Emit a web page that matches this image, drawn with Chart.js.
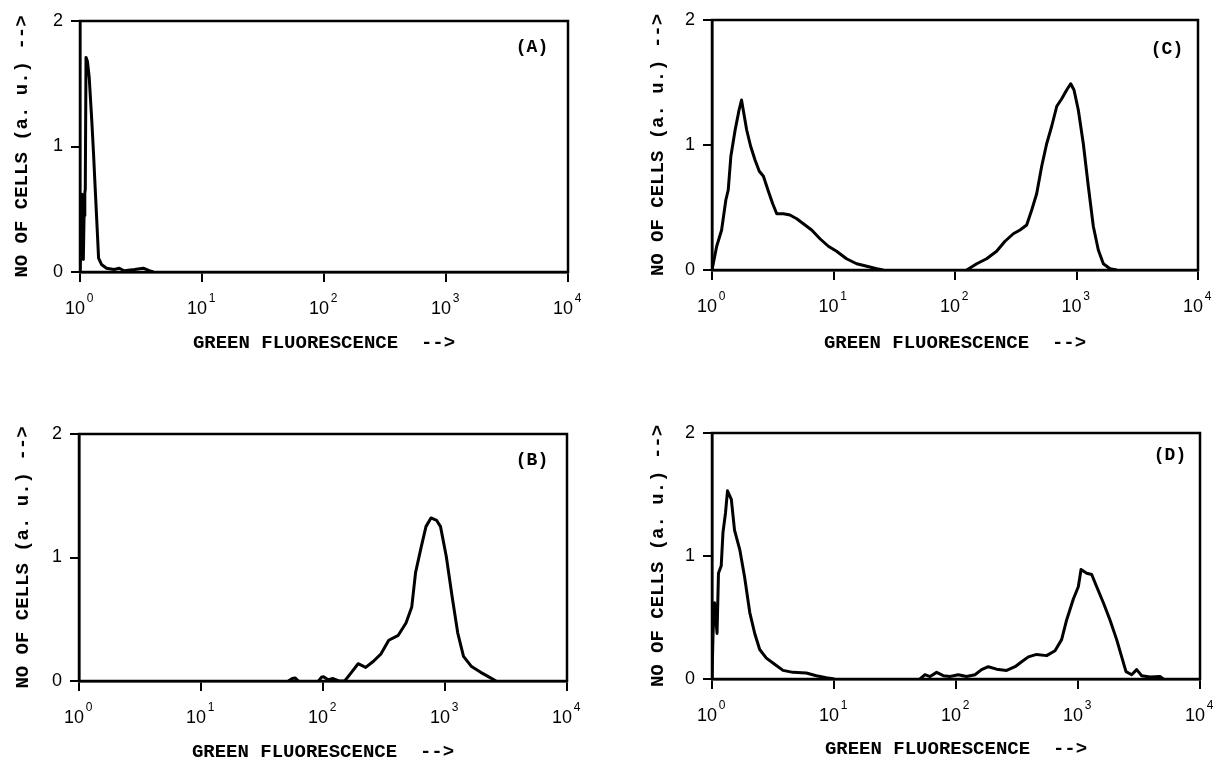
<!DOCTYPE html>
<html><head><meta charset="utf-8">
<script src="https://cdn.jsdelivr.net/npm/chart.js@4.4.1/dist/chart.umd.min.js"></script>
<style>
html,body{margin:0;padding:0;background:#fff;width:1226px;height:760px;overflow:hidden}
canvas{position:absolute}
</style></head><body>
<canvas id="cA" width="613" height="370" style="left:0;top:0"></canvas>
<canvas id="cC" width="613" height="370" style="left:613px;top:0"></canvas>
<canvas id="cB" width="613" height="390" style="left:0;top:370px"></canvas>
<canvas id="cD" width="613" height="390" style="left:613px;top:370px"></canvas>
<script>
// ---- data ----
const tickValues = [1, 10, 100, 1000, 10000];
const tickBases = ['10', '10', '10', '10', '10'];
const tickExponents = ['0', '1', '2', '3', '4'];
const yTickValues = [0, 1, 2];
const xTitle = 'GREEN FLUORESCENCE  -->';
const yTitle = 'NO OF CELLS (a. u.) -->';
const panelLabels = ['(A)', '(B)', '(C)', '(D)'];

const aX = [1.0, 1.02, 1.035, 1.05, 1.065, 1.08, 1.095, 1.105, 1.12, 1.15, 1.19, 1.25, 1.29, 1.33, 1.39, 1.42, 1.5, 1.65, 1.9, 2.1, 2.3, 2.8, 3.3, 3.7, 4.0];
const aY = [0, 0.3, 0.62, 0.35, 0.1, 0.45, 0.63, 0.66, 1.71, 1.68, 1.55, 1.2, 0.95, 0.68, 0.3, 0.11, 0.06, 0.03, 0.02, 0.03, 0.01, 0.02, 0.03, 0.01, 0];

const bX = [52, 56, 59, 63, 75, 92, 97, 101, 110, 121, 135, 150.6, 168, 194, 224, 259, 299, 346, 414, 479, 534, 574, 640, 698, 767, 855, 919, 1024, 1141, 1271, 1418, 1638, 1963, 2268, 2623];
const bY = [0, 0.02, 0.025, 0, null, 0, 0.03, 0.035, 0.01, 0.02, 0, 0, 0.06, 0.14, 0.11, 0.16, 0.22, 0.33, 0.37, 0.47, 0.60, 0.88, 1.09, 1.25, 1.32, 1.30, 1.25, 1.01, 0.69, 0.39, 0.20, 0.12, 0.07, 0.035, 0];

const cX = [1.0, 1.093, 1.2, 1.3, 1.36, 1.43, 1.55, 1.67, 1.75, 1.83, 1.93, 2.08, 2.26, 2.45, 2.65, 2.91, 3.16, 3.41, 3.87, 4.38, 4.98, 5.65, 6.61, 7.74, 9.07, 10.6, 12.8, 15.5, 18.8, 22.7, 25.7, 60, 125, 151, 182, 220, 258, 302, 343, 389, 428, 470, 517, 568, 625, 688, 756, 830, 896, 954, 1035, 1138, 1251, 1375, 1512, 1663, 1888, 2142];
const cY = [0, 0.19, 0.32, 0.56, 0.64, 0.91, 1.12, 1.28, 1.36, 1.25, 1.12, 0.99, 0.88, 0.79, 0.75, 0.63, 0.53, 0.45, 0.45, 0.44, 0.41, 0.37, 0.32, 0.25, 0.19, 0.15, 0.09, 0.05, 0.03, 0.01, 0, null, 0, 0.05, 0.09, 0.15, 0.23, 0.29, 0.32, 0.36, 0.48, 0.61, 0.83, 1.01, 1.15, 1.31, 1.37, 1.44, 1.49, 1.44, 1.28, 1.01, 0.67, 0.35, 0.16, 0.05, 0.01, 0];

const dX = [1.0, 1.02, 1.05, 1.10, 1.13, 1.19, 1.23, 1.29, 1.34, 1.44, 1.53, 1.69, 1.85, 2.04, 2.24, 2.46, 2.79, 3.26, 3.82, 4.61, 5.93, 7.16, 8.65, 10.1, 30, 50.7, 55.7, 61.2, 69.4, 78.7, 89.3, 104.5, 122, 143, 162, 184, 215, 260, 305, 345, 392, 458, 553, 648, 734, 807, 916, 1006, 1059, 1178, 1295, 1423, 1614, 1829, 2075, 2281, 2475, 2755, 3027, 3327, 3892, 4699, 5012];
const dY = [0, 0.37, 0.62, 0.37, 0.86, 0.92, 1.19, 1.35, 1.53, 1.46, 1.21, 1.05, 0.83, 0.54, 0.37, 0.24, 0.17, 0.12, 0.07, 0.054, 0.049, 0.027, 0.01, 0, null, 0, 0.035, 0.02, 0.054, 0.027, 0.02, 0.035, 0.02, 0.035, 0.076, 0.10, 0.08, 0.07, 0.10, 0.14, 0.18, 0.20, 0.19, 0.23, 0.32, 0.48, 0.65, 0.75, 0.89, 0.86, 0.85, 0.75, 0.62, 0.48, 0.32, 0.18, 0.06, 0.035, 0.076, 0.027, 0.016, 0.02, 0];

// ---- layout (page pixel geometry of each panel) ----
const layoutA = {cl: 0,   ct: 0,   L: 80,  R: 568,  T: 21,  B: 272, yTitleX: 22,  xTitleY: 343, labDx: 36, labDy: 26};
const layoutC = {cl: 613, ct: 0,   L: 712, R: 1198, T: 20,  B: 270, yTitleX: 658, xTitleY: 343, labDx: 31, labDy: 29};
const layoutB = {cl: 0,   ct: 370, L: 79,  R: 567,  T: 434, B: 681, yTitleX: 23,  xTitleY: 752, labDx: 35, labDy: 26};
const layoutD = {cl: 613, ct: 370, L: 712, R: 1200, T: 433, B: 679, yTitleX: 658, xTitleY: 749, labDx: 30, labDy: 22};

const MONO = '"Liberation Mono", "Courier New", monospace';
const SANS = '"Liberation Sans", Arial, sans-serif';
const TITLE_SIZE = 19, TITLE_LH = 0.6;
const BASE_SIZE = 18, EXP_SIZE = 12;
const BASE_DROP = 37.5, EXP_DROP = 27;   // label centre distance below the x axis line

const framePlugin = {
  id: 'frame',
  afterDatasetsDraw(chart, args, opts) {
    const {ctx, chartArea: {left, top, right, bottom}} = chart;
    ctx.save();
    ctx.strokeStyle = '#000';
    ctx.lineWidth = 2.5;
    ctx.strokeRect(left, top, right - left, bottom - top);
    ctx.font = 'bold 18px ' + MONO;
    ctx.fillStyle = '#000';
    ctx.textAlign = 'center';
    ctx.textBaseline = 'middle';
    ctx.fillText(opts.text, right - opts.dx, top + opts.dy);
    ctx.restore();
  }
};

function makeChart(id, xs, ys, g, label) {
  const canvas = document.getElementById(id);
  const W = canvas.width, H = canvas.height;
  const L = g.L - g.cl, R = g.R - g.cl, T = g.T - g.ct, B = g.B - g.ct;
  const xAxisH = H - B;
  const half = TITLE_SIZE * TITLE_LH / 2;
  const xTitlePad = (H - (g.xTitleY - g.ct)) - half;
  const yTitlePad = (g.yTitleX - g.cl) - half;
  const pts = xs.map((x, i) => ({x: x, y: ys[i]}));
  const setTicks = (s) => { s.ticks = tickValues.map(v => ({value: v})); };
  return new Chart(canvas, {
    type: 'line',
    data: {datasets: [{
      data: pts,
      xAxisID: 'x',
      yAxisID: 'y',
      borderColor: '#000',
      borderWidth: 3,
      pointRadius: 0,
      tension: 0,
      spanGaps: false,
      borderJoinStyle: 'round',
      fill: false
    }]},
    plugins: [framePlugin],
    options: {
      responsive: false,
      animation: false,
      events: [],
      layout: {padding: {left: 0, top: T, right: W - R, bottom: 0}},
      plugins: {
        legend: {display: false},
        tooltip: {enabled: false},
        frame: {text: label, dx: g.labDx, dy: g.labDy}
      },
      scales: {
        xexp: {
          axis: 'x',
          type: 'logarithmic',
          position: 'bottom',
          weight: -1,
          min: 1, max: 10000,
          afterBuildTicks: setTicks,
          afterFit: (s) => { s.height = 0; },
          ticks: {
            autoSkip: false, maxRotation: 0, minRotation: 0,
            mirror: true,
            padding: -(EXP_DROP + EXP_SIZE * 0.6),
            labelOffset: 10,
            color: '#000',
            font: {family: SANS, size: EXP_SIZE},
            callback: (v) => { const i = tickValues.indexOf(v); return i >= 0 ? tickExponents[i] : ''; }
          },
          grid: {display: false, drawTicks: false, drawOnChartArea: false},
          border: {display: false},
          title: {display: false}
        },
        x: {
          type: 'logarithmic',
          position: 'bottom',
          weight: 0,
          min: 1, max: 10000,
          afterBuildTicks: setTicks,
          afterFit: (s) => { s.height = xAxisH; },
          ticks: {
            autoSkip: false, maxRotation: 0, minRotation: 0,
            mirror: true,
            padding: -(BASE_DROP + BASE_SIZE * 0.6),
            labelOffset: -5,
            color: '#000',
            font: {family: SANS, size: BASE_SIZE},
            callback: (v) => { const i = tickValues.indexOf(v); return i >= 0 ? tickBases[i] : ''; }
          },
          grid: {display: true, drawOnChartArea: false, drawTicks: true, tickLength: 10, color: '#000', lineWidth: 2},
          border: {display: true, color: '#000', width: 2.5},
          title: {
            display: true, text: xTitle, color: '#000',
            font: {family: MONO, size: TITLE_SIZE, weight: 'bold', lineHeight: TITLE_LH},
            padding: {top: 0, bottom: xTitlePad}
          }
        },
        y: {
          type: 'linear',
          position: 'left',
          min: 0, max: 2,
          afterBuildTicks: (s) => { s.ticks = yTickValues.map(v => ({value: v})); },
          afterFit: (s) => { s.width = L; },
          ticks: {
            padding: 8,
            color: '#000',
            font: {family: SANS, size: 18},
            callback: (v) => String(v)
          },
          grid: {display: true, drawOnChartArea: false, drawTicks: true, tickLength: 9, color: '#000', lineWidth: 2},
          border: {display: true, color: '#000', width: 2.5},
          title: {
            display: true, text: yTitle, color: '#000',
            font: {family: MONO, size: TITLE_SIZE, weight: 'bold', lineHeight: TITLE_LH},
            padding: {top: yTitlePad, bottom: 0}
          }
        }
      }
    }
  });
}

makeChart('cA', aX, aY, layoutA, panelLabels[0]);
makeChart('cB', bX, bY, layoutB, panelLabels[1]);
makeChart('cC', cX, cY, layoutC, panelLabels[2]);
makeChart('cD', dX, dY, layoutD, panelLabels[3]);
</script>
</body></html>
